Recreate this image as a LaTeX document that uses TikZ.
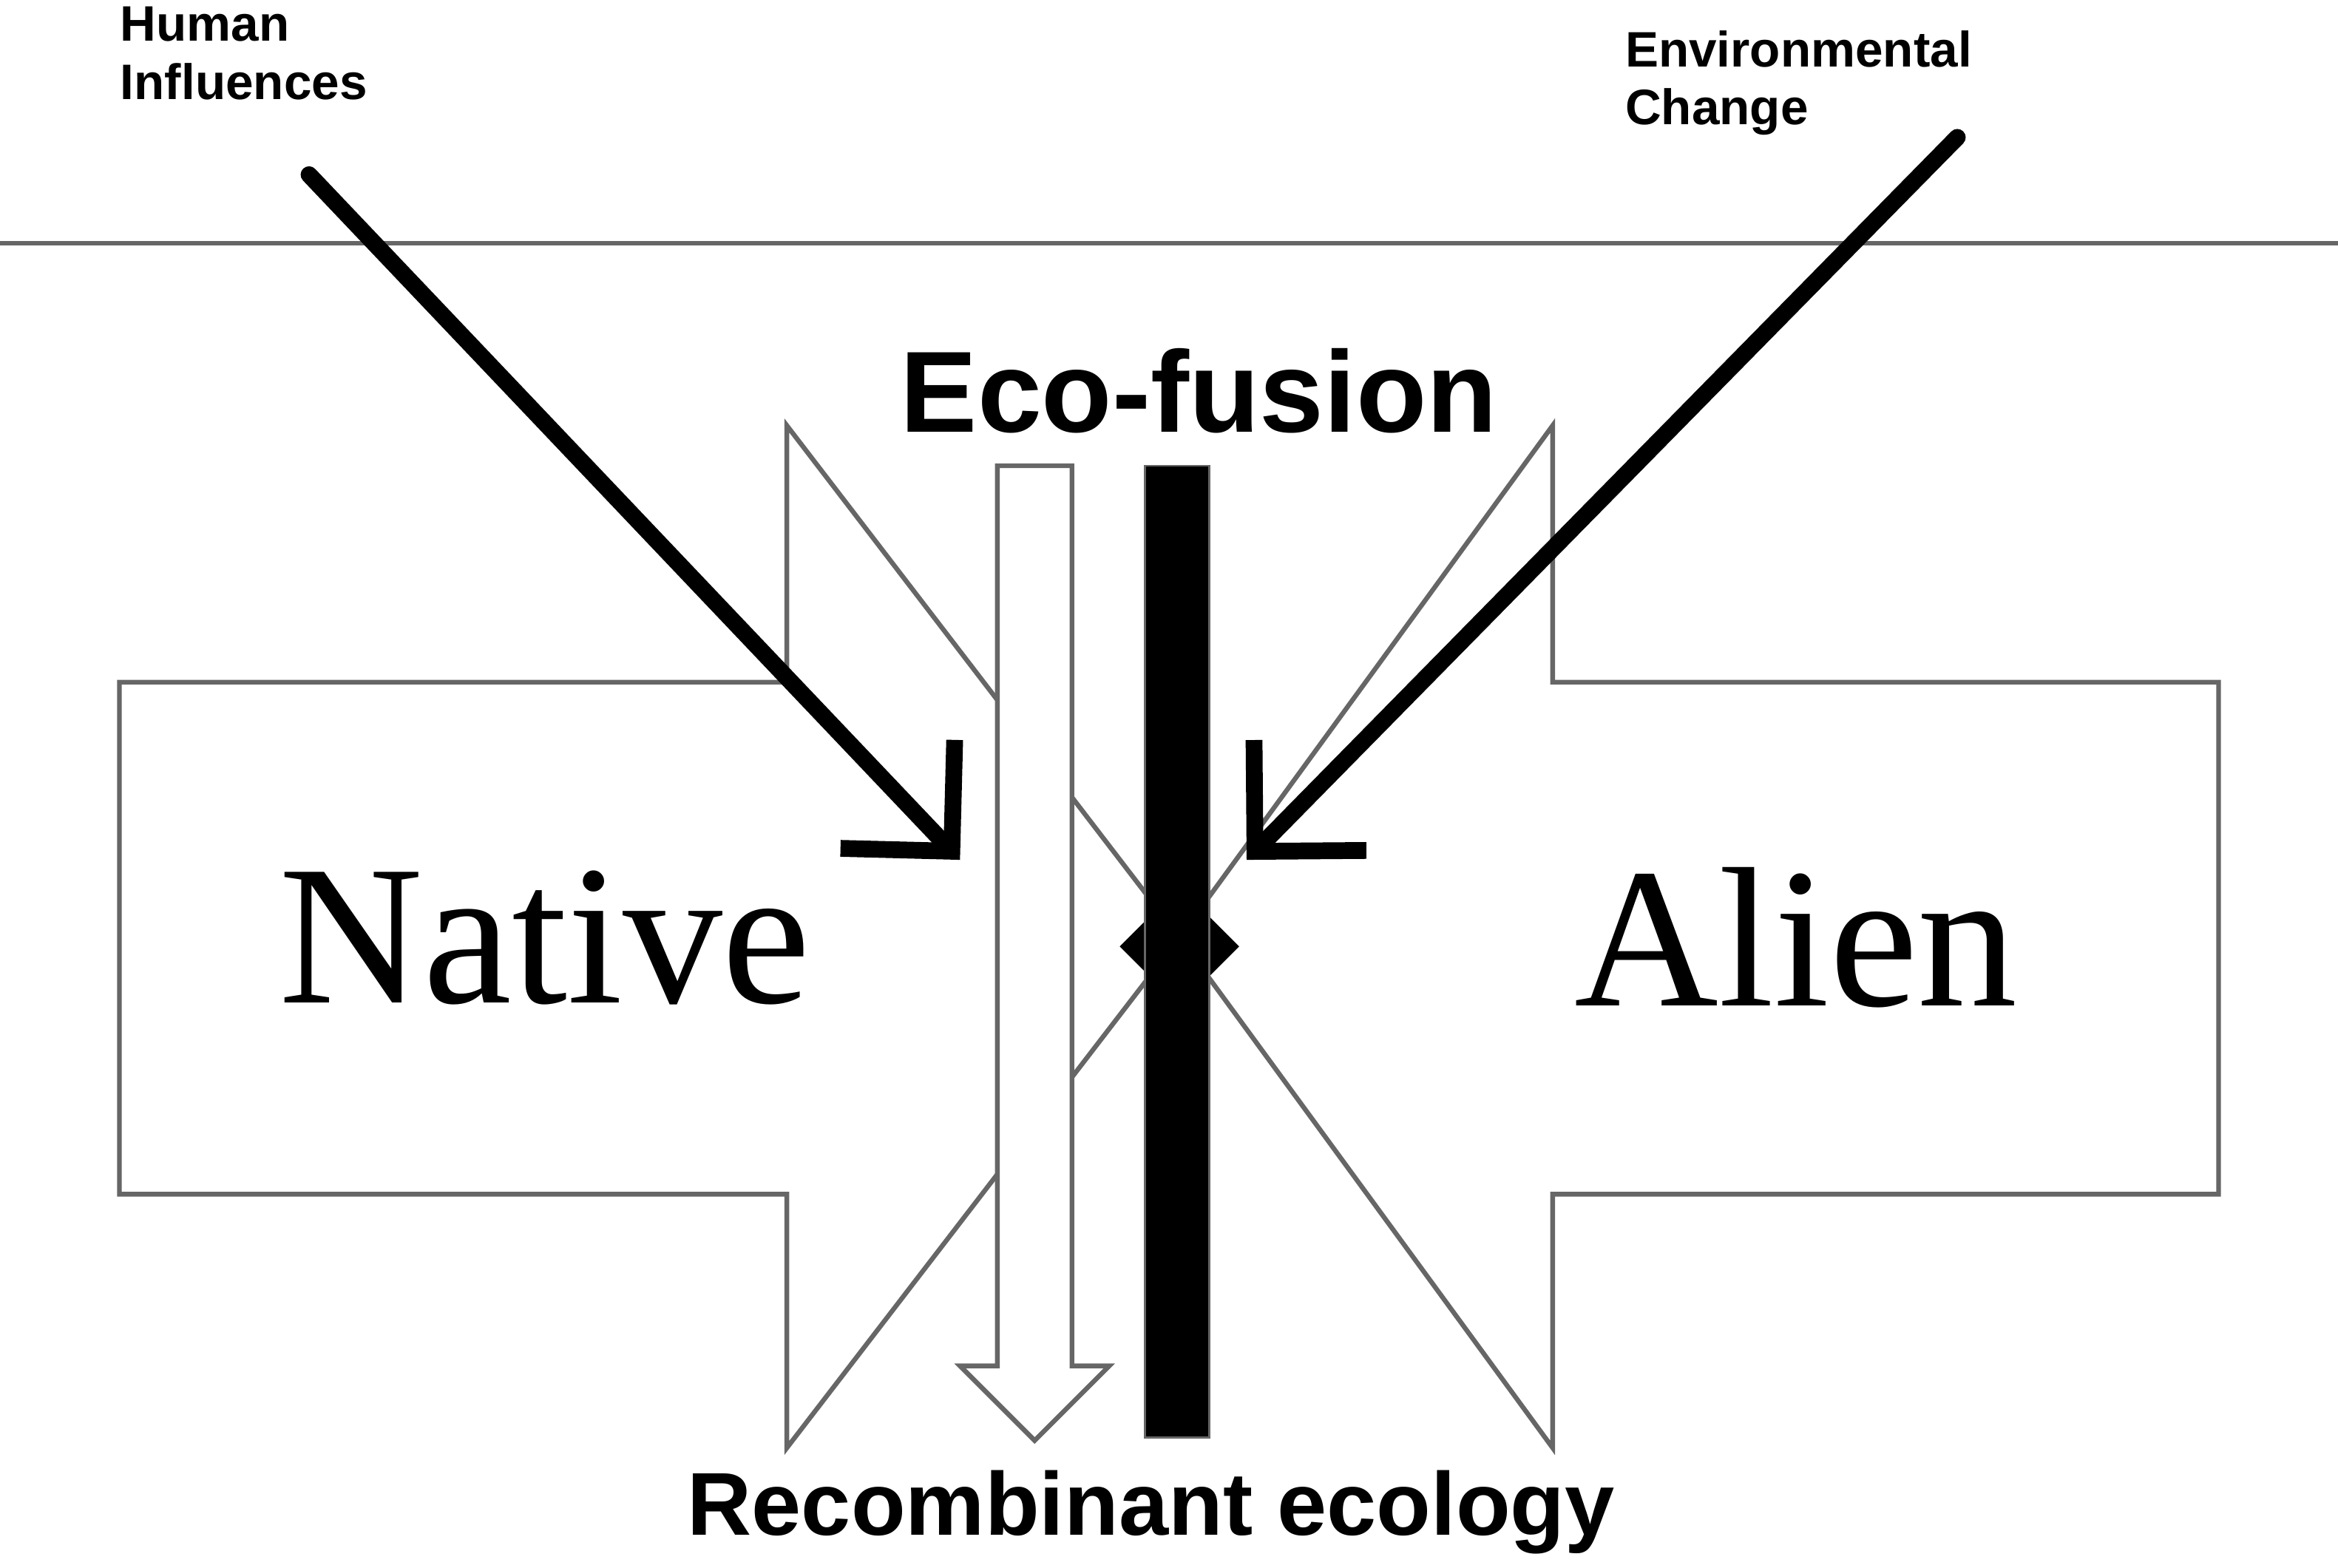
\documentclass[tikz,border=0pt]{standalone}
\usepackage{fontspec}
\setmainfont{Liberation Serif}
\setsansfont{Liberation Sans}
\usetikzlibrary{arrows.meta}
\tikzstyle{outline}=[draw=black!60, line width=0.9pt, fill=white]
\tikzstyle{force}=[line width=3.2pt, line cap=round, -{Straight Barb[length=15pt, width=30pt, line width=3.2pt]}]
\tikzstyle{label}=[align=left, anchor=north west, inner sep=0pt]

\begin{document}
\begin{tikzpicture}[x=0.01cm, y=-0.01cm]
            \useasboundingbox (0,0) rectangle (1566,1050);
            \draw[black!60, line width=0.8pt] (0,163) -- (1566,163);
            % native and alien arrows
            \draw[outline] (80,457) -- (527,457) -- (527,285) -- (790,628) -- (527,970) -- (527,800) -- (80,800) -- cycle;
            \draw[outline, fill=none] (1486,457) -- (1040,457) -- (1040,285) -- (790,628) -- (1040,970) -- (1040,800) -- (1486,800) -- cycle;
            \fill[black] (750,634) -- (770,614) -- (810,614) -- (830,634) -- (810,654) -- (770,654) -- cycle;
            % recombinant arrow and fusion bar
            \draw[outline] (668,312) -- (718,312) -- (718,915) -- (743,915) -- (693,965) -- (643,915) -- (668,915) -- cycle;
            \fill[black, draw=black!60] (767,312) rectangle (810,963);
            % texts
            \node[label, font=\sffamily\bfseries\fontsize{9.5}{11}\selectfont] (human) at (80,4) {Human\\Influences};
            \node[label, font=\sffamily\bfseries\fontsize{9.5}{11}\selectfont] (env) at (1088,20) {Environmental\\Change};
            \node[font=\sffamily\bfseries\fontsize{22}{26}\selectfont] (fusion) at (803,262) {Eco-fusion};
            \node[font=\fontsize{38}{44}\selectfont] (native) at (365,628) {Native};
            \node[font=\fontsize{38}{44}\selectfont] (alien) at (1203,628) {Alien};
            \node[font=\sffamily\bfseries\fontsize{17}{20}\selectfont] (recomb) at (771,1013) {Recombinant ecology};
            \coordinate (hstart) at (207,117);
            \coordinate (hend) at (643,576);
            \coordinate (estart) at (1311,92);
            \coordinate (eend) at (835,576);
            \draw[force] (hstart) -- (hend);
            \draw[force] (estart) -- (eend);
\end{tikzpicture}
\end{document}
